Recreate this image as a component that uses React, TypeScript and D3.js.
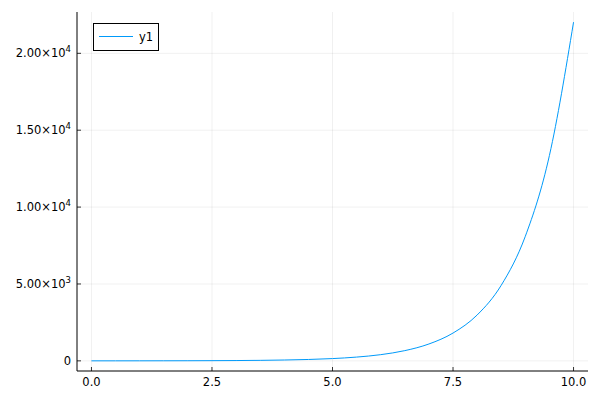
import * as d3 from "d3"

// values
const xs = [0, 0.5, 1, 1.5, 2, 2.5, 3, 3.5, 4, 4.5, 5, 5.5, 6, 6.5, 7, 7.5, 8, 8.5, 9, 9.5, 10]
const ys = [1, 1.6, 2.7, 4.5, 7.4, 12, 20, 33, 55, 90, 148, 245, 403, 665, 1097, 1808, 2981, 4915, 8103, 13360, 22026]
const xTicks = [0, 2.5, 5, 7.5, 10]
const yTicks = [0, 5000, 10000, 15000, 20000]
const yTickMant = ["", "5.00", "1.00", "1.50", "2.00"]
const yTickExp = ["", "3", "4", "4", "4"]
const seriesName = "y1"

const W = 600
const H = 400
const frame = { left: 77, right: 588, top: 12, bottom: 371 }
const font = "'DejaVu Sans', sans-serif"
const lineColor = "#009afa"

export default function App() {
  const xPad = 0.03 * 10
  const yMin = d3.min(ys) as number
  const yMax = d3.max(ys) as number
  const yPad = 0.03 * (yMax - yMin)

  const x = d3.scaleLinear().domain([0 - xPad, 10 + xPad]).range([frame.left, frame.right])
  const y = d3.scaleLinear().domain([yMin - yPad, yMax + yPad]).range([frame.bottom, frame.top])

  const line = d3
    .line<number>()
    .x((_, i) => x(xs[i]))
    .y((d) => y(d))
    .curve(d3.curveMonotoneX)

  return (
    <svg width={W} height={H} style={{ position: "absolute", left: 0, top: 0, background: "#fff" }}>
      {/* grid */}
      {xTicks.map((t) => (
        <line key={"gx" + t} x1={x(t)} x2={x(t)} y1={frame.top} y2={frame.bottom} stroke="#000" strokeOpacity={0.1} strokeWidth={0.6} />
      ))}
      {yTicks.map((t) => (
        <line key={"gy" + t} x1={frame.left} x2={frame.right} y1={y(t)} y2={y(t)} stroke="#000" strokeOpacity={0.1} strokeWidth={0.6} />
      ))}

      {/* series */}
      <path d={line(ys) ?? ""} fill="none" stroke={lineColor} strokeWidth={1} />

      {/* axes */}
      <line x1={frame.left} x2={frame.right} y1={frame.bottom} y2={frame.bottom} stroke="#000" strokeWidth={1} />
      <line x1={frame.left} x2={frame.left} y1={frame.top} y2={frame.bottom} stroke="#000" strokeWidth={1} />

      {xTicks.map((t) => (
        <g key={"tx" + t}>
          <line x1={x(t)} x2={x(t)} y1={frame.bottom} y2={frame.bottom - 4} stroke="#000" strokeWidth={0.8} />
          <text x={x(t)} y={386} textAnchor="middle" fontFamily={font} fontSize={11.5} fill="#000">
            {t.toFixed(1)}
          </text>
        </g>
      ))}

      {yTicks.map((t, i) => (
        <g key={"ty" + t}>
          <line x1={frame.left} x2={frame.left + 4} y1={y(t)} y2={y(t)} stroke="#000" strokeWidth={0.8} />
          <text x={71} y={y(t) + 4} textAnchor="end" fontFamily={font} fontSize={11.5} fill="#000">
            {i === 0 ? (
              "0"
            ) : (
              <>
                {yTickMant[i] + "×10"}
                <tspan dy={-5} fontSize={8.5}>
                  {yTickExp[i]}
                </tspan>
              </>
            )}
          </text>
        </g>
      ))}

      {/* legend */}
      <rect x={93.5} y={23.5} width={65} height={27} fill="#fff" stroke="#000" strokeWidth={1} />
      <line x1={99} x2={133} y1={36.5} y2={36.5} stroke={lineColor} strokeWidth={1} />
      <text x={139} y={40.5} fontFamily={font} fontSize={11.5} fill="#000">
        {seriesName}
      </text>
    </svg>
  )
}
